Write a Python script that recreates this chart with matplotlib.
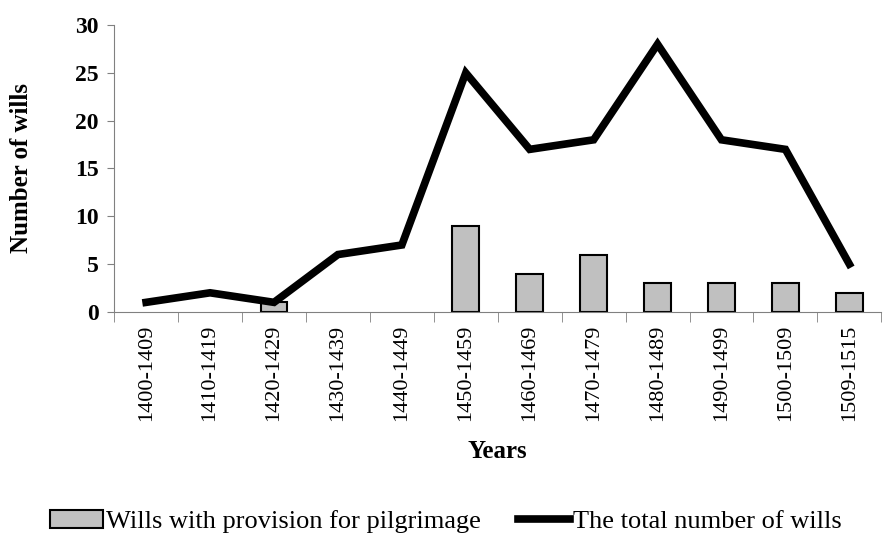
import numpy as np
import matplotlib.pyplot as plt

periods = ["1400-1409", "1410-1419", "1420-1429", "1430-1439", "1440-1449",
           "1450-1459", "1460-1469", "1470-1479", "1480-1489", "1490-1499",
           "1500-1509", "1509-1515"]
pilgrimage = [0, 0, 1, 0, 0, 9, 4, 6, 3, 3, 3, 2]
total = [1, 2, 1, 6, 7, 25, 17, 18, 28, 18, 17, 5]

plt.rcParams['font.family'] = ['Liberation Serif', 'DejaVu Serif']

fig = plt.figure(figsize=(8.92, 5.57), dpi=100)
ax = fig.add_axes([0.128, 0.44, 0.86, 0.515])

x = np.arange(len(periods))
# empty periods get no bar outline
bar_vals = np.array(pilgrimage, dtype=float)
bar_vals[bar_vals == 0] = np.nan
bars = ax.bar(x, bar_vals, width=0.42, color="#c0c0c0", edgecolor="black",
              linewidth=1.5, label="Wills with provision for pilgrimage", zorder=2)
line, = ax.plot(x, total, color="black", linewidth=5.5, solid_joinstyle="miter",
                label="The total number of wills", zorder=3)

ax.set_xlim(-0.5, len(periods) - 0.5)
ax.set_ylim(0, 30)
ax.set_yticks(range(0, 31, 5))
ax.tick_params(axis="y", labelsize=17, color="#808080", length=5, pad=6)
for t in ax.get_yticklabels():
    t.set_fontweight("bold")

ax.set_xticks(x)
ax.set_xticklabels(periods, rotation=90, fontsize=16)
ax.tick_params(axis="x", length=0, pad=9)
ax.set_xticks(np.arange(-0.5, len(periods)), minor=True)
ax.tick_params(axis="x", which="minor", length=7, color="#808080")

for s in ["top", "right"]:
    ax.spines[s].set_visible(False)
for s in ["left", "bottom"]:
    ax.spines[s].set_color("#808080")

ax.set_xlabel("Years", fontsize=18, fontweight="bold", labelpad=14)
ax.set_ylabel("Number of wills", fontsize=18, fontweight="bold", labelpad=30)

fig.legend([bars, line], [bars.get_label(), line.get_label()],
           loc="lower center", bbox_to_anchor=(0.5, 0.0), ncol=2, frameon=False,
           fontsize=19, handlelength=2.0, handletextpad=0.1, columnspacing=1.4)

fig.savefig("out.png", dpi=100)
